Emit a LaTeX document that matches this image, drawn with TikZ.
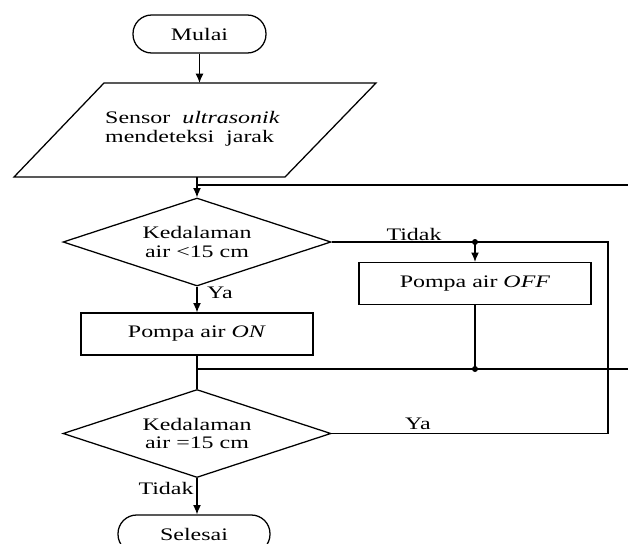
\documentclass[tikz,border=0pt]{standalone}
\usepackage{fontspec}
\setmainfont[FakeStretch=1.36]{Liberation Serif}
\usetikzlibrary{shapes.geometric,arrows.meta}
\begin{document}
\begin{tikzpicture}[x=0.75pt,y=-0.75pt,
  line width=0.95pt,
  every node/.style={font=\fontsize{13.2}{14}\selectfont},
  term/.style={draw,rectangle,rounded corners=14pt,minimum width=99.75pt,minimum height=28.5pt,inner sep=0pt},
  proc/.style={draw,rectangle,minimum width=174pt,minimum height=31.5pt,inner sep=0pt},
  decide/.style={draw,diamond,aspect=3,minimum width=201pt,minimum height=66pt,inner sep=0pt,align=center},
  io/.style={rectangle,inner sep=0pt,align=left},
  flow/.style={-{Latex[length=7pt,width=6pt]}},
  lbl/.style={inner sep=0pt},
  dot/.style={circle,fill,inner sep=0pt,minimum size=4.5pt}
]
\useasboundingbox (0,0) rectangle (628,543);
\clip (0,0) rectangle (628,543);

% start
\node[term] (start) at (199.5,34) {Mulai};

% input: parallelogram drawn from its corners, text node inside
\coordinate (p1) at (104,83);
\coordinate (p2) at (376,83);
\coordinate (p3) at (285,177);
\coordinate (p4) at (14,177);
\draw (p1) -- (p2) -- (p3) -- (p4) -- cycle;
\node[io] (inp) at (192.5,129) {Sensor\ \ \textit{ultrasonik}\\mendeteksi\ \ jarak};

% decisions and processes
\node[decide] (d1) at (197,242) {Kedalaman\\air <15 cm};
\node[proc] (on) at (197,334) {Pompa air \textit{ON}};
\node[proc] (off) at (475,283.5) {Pompa air \textit{OFF}};
\node[decide] (d2) at (197,433.5) {Kedalaman\\air =15 cm};
\node[term,minimum width=114pt] (stop) at (194,534) {Selesai};

% junctions
\coordinate (j1) at (197,185);
\coordinate (r1) at (628,185);
\coordinate (j2) at (197,369);
\coordinate (r2) at (628,369);
\coordinate (rt) at (608,242);
\coordinate (rb) at (608,433.5);
\node[dot] (s1) at (475,242) {};
\node[dot] (s2) at (475,369) {};

% connectors
\draw[flow] (start.south) -- (start.south |- p1);
\draw[flow] (d1.north |- p3) -- (d1.north);
\draw (j1) -- (r1);
\draw[flow] (d1.south) -- (on.north);
\draw (on.south) -- (d2.north);
\draw (j2) -- (r2);
\draw (d1.east) -- (rt) -- (rb) -- (d2.east);
\draw[flow] (s1.center) -- (off.north);
\draw (off.south) -- (s2.center);
\draw[flow] (d2.south) -- (d2.south |- stop.north);

% labels
\node[lbl] (tidak1) at (414,234) {Tidak};
\node[lbl] (ya1) at (220,293) {Ya};
\node[lbl] (ya2) at (418,424) {Ya};
\node[lbl] (tidak2) at (166,488) {Tidak};
\end{tikzpicture}
\end{document}
